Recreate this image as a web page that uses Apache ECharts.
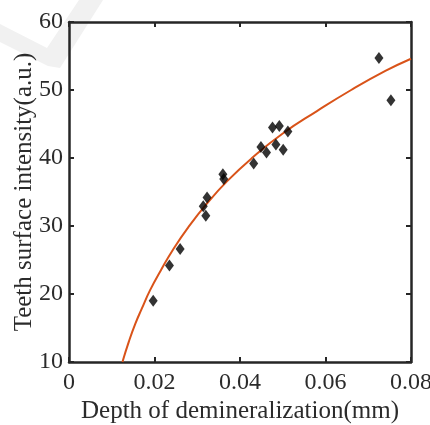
<!DOCTYPE html>
<html>
<head>
<meta charset="utf-8">
<script src="https://cdn.jsdelivr.net/npm/echarts@6/dist/echarts.min.js"></script>
<style>html,body{margin:0;padding:0;background:#fff}#c{width:430px;height:425px}</style>
</head>
<body>
<div id="c"></div>
<script>
// Measured scatter points (depth mm, intensity a.u.)
const depth = [0.0197, 0.0235, 0.0260, 0.0314, 0.0320, 0.0323, 0.0360, 0.0362, 0.0432, 0.0449, 0.0462, 0.0484, 0.0501, 0.0476, 0.0492, 0.0512, 0.0725, 0.0753];
const intensity = [19.0, 24.2, 26.6, 32.9, 31.5, 34.2, 37.6, 36.9, 39.2, 41.6, 40.8, 42.0, 41.2, 44.5, 44.7, 43.9, 54.7, 48.5];
// Fitted curve
const fitX = [0.0125, 0.0140, 0.0155, 0.0170, 0.0190, 0.0215, 0.0245, 0.0280, 0.0320, 0.0370, 0.0430, 0.0500, 0.0580, 0.0660, 0.0740, 0.0800];
const fitY = [10.0, 13.0, 15.6, 17.8, 20.6, 23.5, 26.7, 29.9, 33.1, 36.6, 40.1, 43.6, 46.9, 50.0, 52.8, 54.6];
const xTicks = [0, 0.02, 0.04, 0.06, 0.08];
const yTicks = [10, 20, 30, 40, 50, 60];

const font = '"Liberation Serif","Times New Roman",serif';
const txt = '#2b2b2b';
const frame = '#262626';

const chart = echarts.init(document.getElementById('c'), null, {renderer: 'canvas'});
const axisCommon = {
  axisLine: {show: true, onZero: false, lineStyle: {color: frame, width: 2.5}},
  axisTick: {show: true, inside: true, length: 5, lineStyle: {color: frame, width: 2}},
  splitLine: {show: false}
};
chart.setOption({
  animation: false,
  backgroundColor: '#ffffff',
  graphic: [{
    type: 'polygon', z: -10, silent: true,
    shape: {points: [[0, 24], [0, 42], [48, 66], [60, 68], [103, 0], [79, 0], [47, 48]]},
    style: {fill: '#f1f1f1'}
  }],
  grid: {left: 69, right: 19, top: 22, bottom: 63, containLabel: false, outerBoundsMode: 'none'},
  xAxis: [
    Object.assign({
      type: 'value', position: 'bottom', min: xTicks[0], max: xTicks[xTicks.length - 1], interval: 0.02,
      name: 'Depth of demineralization(mm)', nameLocation: 'middle', nameGap: 37, nameMoveOverlap: false,
      nameTextStyle: {fontFamily: font, fontSize: 25, color: txt},
      axisLabel: {fontFamily: font, fontSize: 24, color: txt, margin: 9,
        formatter: v => String(parseFloat(v.toFixed(2)))}
    }, axisCommon),
    Object.assign({
      type: 'value', position: 'top', min: xTicks[0], max: xTicks[xTicks.length - 1], interval: 0.02,
      axisLabel: {show: false}
    }, axisCommon)
  ],
  yAxis: [
    Object.assign({
      type: 'value', position: 'left', min: yTicks[0], max: yTicks[yTicks.length - 1], interval: 10,
      name: 'Teeth surface intensity(a.u.)', nameLocation: 'middle', nameGap: 32, nameMoveOverlap: false,
      nameTextStyle: {fontFamily: font, fontSize: 25, color: txt},
      axisLabel: {fontFamily: font, fontSize: 24, color: txt, margin: 6}
    }, axisCommon),
    Object.assign({
      type: 'value', position: 'right', min: yTicks[0], max: yTicks[yTicks.length - 1], interval: 10,
      axisLabel: {show: false}
    }, axisCommon)
  ],
  series: [
    {
      type: 'line', xAxisIndex: 0, yAxisIndex: 0,
      data: fitX.map((x, i) => [x, fitY[i]]),
      smooth: true, showSymbol: false, symbol: 'none',
      lineStyle: {color: '#D95319', width: 2}, z: 2
    },
    {
      type: 'scatter', xAxisIndex: 0, yAxisIndex: 0,
      data: depth.map((x, i) => [x, intensity[i]]),
      symbol: 'diamond', symbolSize: [9, 12],
      itemStyle: {color: '#000000'}, z: 3
    }
  ]
});
</script>
</body>
</html>
